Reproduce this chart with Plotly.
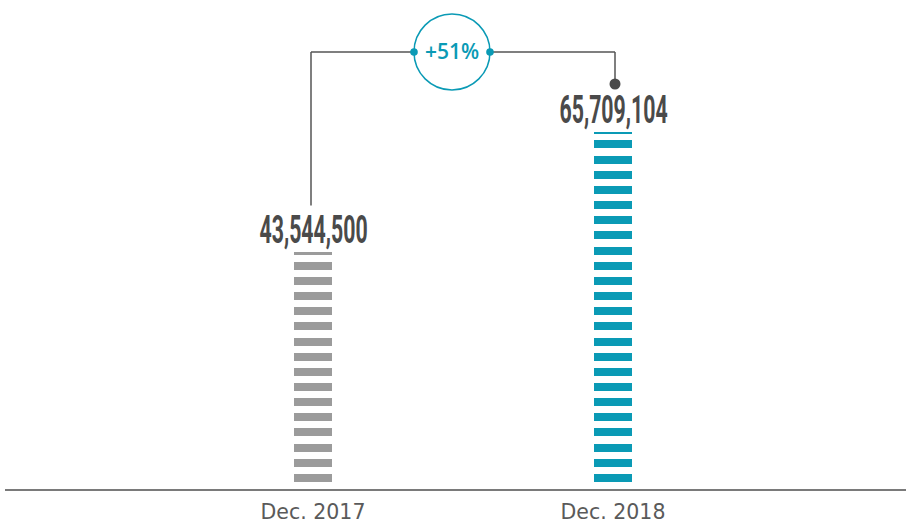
import plotly.graph_objects as go

# ---- data ----
categories = ["Dec. 2017", "Dec. 2018"]
values = [43544500, 65709104]
bar_colors = ["#9b9b9b", "#0a9ab5"]

# ---- geometry / styling ----
W, H = 906, 525
M_L, M_R, M_T, M_B = 5, 0, 0, 36
PLOT_W = W - M_L - M_R
PLOT_H = H - M_T - M_B
X_RANGE = [-1.02667, 1.97667]
Y_RANGE = [0, 90e6]
PX_PER_X = PLOT_W / (X_RANGE[1] - X_RANGE[0])
PX_PER_Y = PLOT_H / (Y_RANGE[1] - Y_RANGE[0])

BAR_WIDTH = 38 / PX_PER_X
STRIPE_OFFSET = 1.30e6   # gap below the first stripe
STRIPE_PERIOD = 2.79e6
STRIPE_THICK = 1.47e6

TEAL = "#0a9ab5"
DARK = "#555555"
LEVEL_Y = 437 / PX_PER_Y          # connector height above the baseline
LABEL_CLEAR = 47 / PX_PER_Y       # space taken by the value label
CIRCLE_X = 0.4633                 # circle centre, in category units
CIRCLE_R = 38                     # px
VALUE_FONT = "Liberation Sans Narrow, Roboto, Liberation Sans, sans-serif"
CONDENSE = 0.56                   # horizontal squeeze of the value labels


def stripes(v):
    bases, heights = [], []
    b = STRIPE_OFFSET
    while b < v:
        top = min(b + STRIPE_THICK, v)
        bases.append(b)
        heights.append(top - b)
        b += STRIPE_PERIOD
    return bases, heights


fig = go.Figure()
for i, (cat, v, col) in enumerate(zip(categories, values, bar_colors)):
    bases, heights = stripes(v)
    fig.add_trace(go.Bar(
        x=[cat] * len(bases), y=heights, base=bases, width=BAR_WIDTH,
        marker=dict(color=col, line=dict(width=0)),
        showlegend=False, hoverinfo="skip",
    ))
    fig.add_annotation(
        x=cat, y=v, xref="x", yref="y", yanchor="bottom", yshift=-2,
        text=f"{v:,}", showarrow=False,
        font=dict(family=VALUE_FONT, size=38, color="#4a4a4a", weight="bold"),
    )

# growth connector
growth = round((values[1] / values[0] - 1) * 100)
x_left = 0 - 2 / PX_PER_X
x_right = 1 + 2 / PX_PER_X
circ_l = CIRCLE_X - CIRCLE_R / PX_PER_X
circ_r = CIRCLE_X + CIRCLE_R / PX_PER_X
line = dict(color=DARK, width=1.5)

fig.add_shape(type="line", xref="x", yref="y", x0=x_left, x1=x_left,
              y0=values[0] + LABEL_CLEAR, y1=LEVEL_Y, line=line)
fig.add_shape(type="line", xref="x", yref="y", x0=x_left, x1=circ_l,
              y0=LEVEL_Y, y1=LEVEL_Y, line=line)
fig.add_shape(type="line", xref="x", yref="y", x0=circ_r, x1=x_right,
              y0=LEVEL_Y, y1=LEVEL_Y, line=line)
dot_y = LEVEL_Y - 32 / PX_PER_Y
fig.add_shape(type="line", xref="x", yref="y", x0=x_right, x1=x_right,
              y0=LEVEL_Y, y1=dot_y, line=line)
fig.add_shape(type="circle", xref="x", yref="y", xsizemode="pixel", ysizemode="pixel",
              xanchor=CIRCLE_X, yanchor=LEVEL_Y,
              x0=-CIRCLE_R, x1=CIRCLE_R, y0=-CIRCLE_R, y1=CIRCLE_R,
              line=dict(color=TEAL, width=1.5), fillcolor="white")
for cx in (circ_l, circ_r):
    fig.add_shape(type="circle", xref="x", yref="y", xsizemode="pixel", ysizemode="pixel",
                  xanchor=cx, yanchor=LEVEL_Y, x0=-3.8, x1=3.8, y0=-3.8, y1=3.8,
                  line=dict(width=0), fillcolor=TEAL)
fig.add_shape(type="circle", xref="x", yref="y", xsizemode="pixel", ysizemode="pixel",
              xanchor=x_right, yanchor=dot_y, x0=-5.5, x1=5.5, y0=-5.5, y1=5.5,
              line=dict(width=0), fillcolor="#4a4a4a")
fig.add_annotation(x=CIRCLE_X, y=LEVEL_Y, xref="x", yref="y", text=f"+{growth}%",
                   showarrow=False, yshift=1,
                   font=dict(family="Open Sans", size=21, color=TEAL, weight=600))

fig.update_layout(
    width=W, height=H, barmode="overlay", bargap=0,
    margin=dict(l=M_L, r=M_R, t=M_T, b=M_B),
    paper_bgcolor="white", plot_bgcolor="white",
    xaxis=dict(type="category", range=X_RANGE, showgrid=False, zeroline=False,
               showline=True, linecolor="#7a7a7a", linewidth=2, ticks="",
               ticklabelstandoff=3, automargin=False,
               tickfont=dict(family="DejaVu Sans", size=20.5, color="#5a5a5a"),
               fixedrange=True),
    yaxis=dict(range=Y_RANGE, visible=False, fixedrange=True, automargin=False),
)

# squeeze the big value labels horizontally (condensed display face)
post = """
var gd = document.getElementById('{plot_id}');
function condense() {
  gd.querySelectorAll('g.annotation').forEach(function (a) {
    var idx = a.getAttribute('data-index');
    if (idx === '0' || idx === '1') {
      var t = a.querySelector('text');
      t.style.transformBox = 'fill-box';
      t.style.transformOrigin = 'center';
      t.style.transform = 'scaleX(%s)';
    }
  });
}
condense();
gd.on('plotly_afterplot', condense);
""" % CONDENSE

fig.write_html("out.html", config={"displayModeBar": False}, post_script=post)
